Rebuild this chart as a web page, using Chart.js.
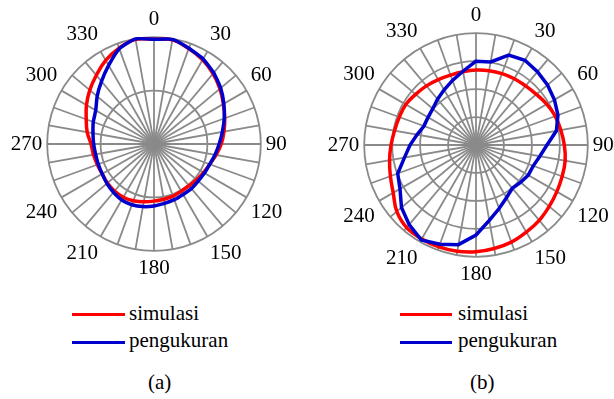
<!DOCTYPE html>
<html><head><meta charset="utf-8">
<script src="https://cdn.jsdelivr.net/npm/chart.js@4.4.0/dist/chart.umd.min.js"></script>
<style>
html,body{margin:0;padding:0;width:614px;height:399px;overflow:hidden;background:#fff;}
.c{position:absolute;}
.t{position:absolute;font-family:"Liberation Serif","Times New Roman",serif;font-size:21px;line-height:21px;color:#000;white-space:nowrap;}
.ln{position:absolute;height:3px;}
</style></head><body>
<div class="c" style="left:0px;top:7px;"><canvas id="ca" width="298" height="274"></canvas></div>
<div class="c" style="left:322px;top:3px;"><canvas id="cb" width="298" height="284"></canvas></div>

<div class="ln" style="left:72px;top:313px;width:53px;background:#ff0000"></div>
<div class="t" style="left:129px;top:303px">simulasi</div>
<div class="ln" style="left:72px;top:341px;width:53px;background:#0000cc"></div>
<div class="t" style="left:129px;top:330px">pengukuran</div>
<div class="t" style="left:148px;top:372px">(a)</div>

<div class="ln" style="left:400px;top:313px;width:52px;background:#ff0000"></div>
<div class="t" style="left:458px;top:303px">simulasi</div>
<div class="ln" style="left:400px;top:341px;width:52px;background:#0000cc"></div>
<div class="t" style="left:458px;top:330px">pengukuran</div>
<div class="t" style="left:470px;top:372px">(b)</div>

<script>
// angle categories (degrees), every 10°
const angles = ['0','10','20','30','40','50','60','70','80','90','100','110','120','130','140','150','160','170',
                '180','190','200','210','220','230','240','250','260','270','280','290','300','310','320','330','340','350'];
const seriesNames = ['simulasi', 'pengukuran'];

// (a) normalized pattern, dB
const simA = [-0.4,-0.2,-1.0,-1.8,-2.8,-3.9,-5.0,-5.9,-6.7,-7.4,-8.2,-8.9,-9.3,-9.6,-9.8,-9.8,-9.6,-9.5,
              -9.3,-9.0,-8.7,-8.5,-8.5,-8.6,-8.8,-8.7,-8.5,-8.2,-7.3,-6.5,-5.4,-4.3,-3.2,-1.9,-0.9,-0.1];
const ukurA = [-0.4,-0.1,-0.9,-1.6,-2.6,-3.7,-4.9,-6.0,-7.0,-7.8,-8.4,-8.9,-9.1,-9.2,-9.1,-9.1,-8.9,-8.7,
               -8.4,-8.1,-7.9,-7.9,-8.2,-8.5,-8.8,-8.9,-8.9,-8.7,-8.4,-7.9,-7.4,-6.1,-4.7,-3.0,-1.0,0.0];

// (b) normalized pattern, dB
const simB = [-6.6,-6.5,-6.4,-6.3,-6.2,-5.9,-5.4,-4.9,-4.6,-4.2,-3.8,-3.6,-3.3,-2.9,-2.4,-2.0,-1.5,-1.2,
              -0.9,-0.7,-0.6,-0.6,-0.7,-1.5,-2.9,-3.7,-4.3,-4.8,-5.2,-5.4,-5.5,-5.9,-6.2,-6.5,-6.7,-6.7];
const ukurB = [-5.0,-4.9,-2.9,-2.5,-2.9,-3.3,-3.8,-4.4,-5.4,-7.3,-8.4,-9.1,-9.2,-9.6,-9.9,-9.1,-7.9,-6.3,
               -3.9,-1.9,-1.1,-0.4,-1.4,-2.6,-4.3,-5.1,-7.0,-8.2,-9.3,-10.1,-10.1,-9.9,-9.3,-8.6,-7.7,-6.6];

const FONT = '"Liberation Serif","Times New Roman",serif';
const GRID = '#8a8a8a';
const RED = '#ff0000', BLUE = '#0000cc';

function makeRadar(id, sim, ukur, step, tensionSim, tensionUkur) {
  new Chart(document.getElementById(id), {
    type: 'radar',
    data: {
      labels: angles,
      datasets: [
        {label: seriesNames[0], data: sim, borderColor: RED, borderWidth: 3.5, pointRadius: 0, fill: false, tension: tensionSim, order: 1},
        {label: seriesNames[1], data: ukur, borderColor: BLUE, borderWidth: 3.5, pointRadius: 0, fill: false, tension: tensionUkur, order: 0}
      ]
    },
    options: {
      responsive: false,
      animation: false,
      devicePixelRatio: 1,
      plugins: {legend: {display: false}, tooltip: {enabled: false}},
      scales: {
        r: {
          min: -20, max: 0,
          ticks: {display: false, stepSize: step},
          grid: {circular: true, color: GRID, lineWidth: 1.8},
          angleLines: {color: GRID, lineWidth: 1.8},
          pointLabels: {
            font: {family: FONT, size: 21},
            color: '#000',
            padding: 5,
            callback: (l, i) => (i % 3 === 0 ? l : '')
          }
        }
      }
    }
  });
}
makeRadar('ca', simA, ukurA, 10, 0.4, 0.15);
makeRadar('cb', simB, ukurB, 5, 0.4, 0);
</script>
</body></html>
